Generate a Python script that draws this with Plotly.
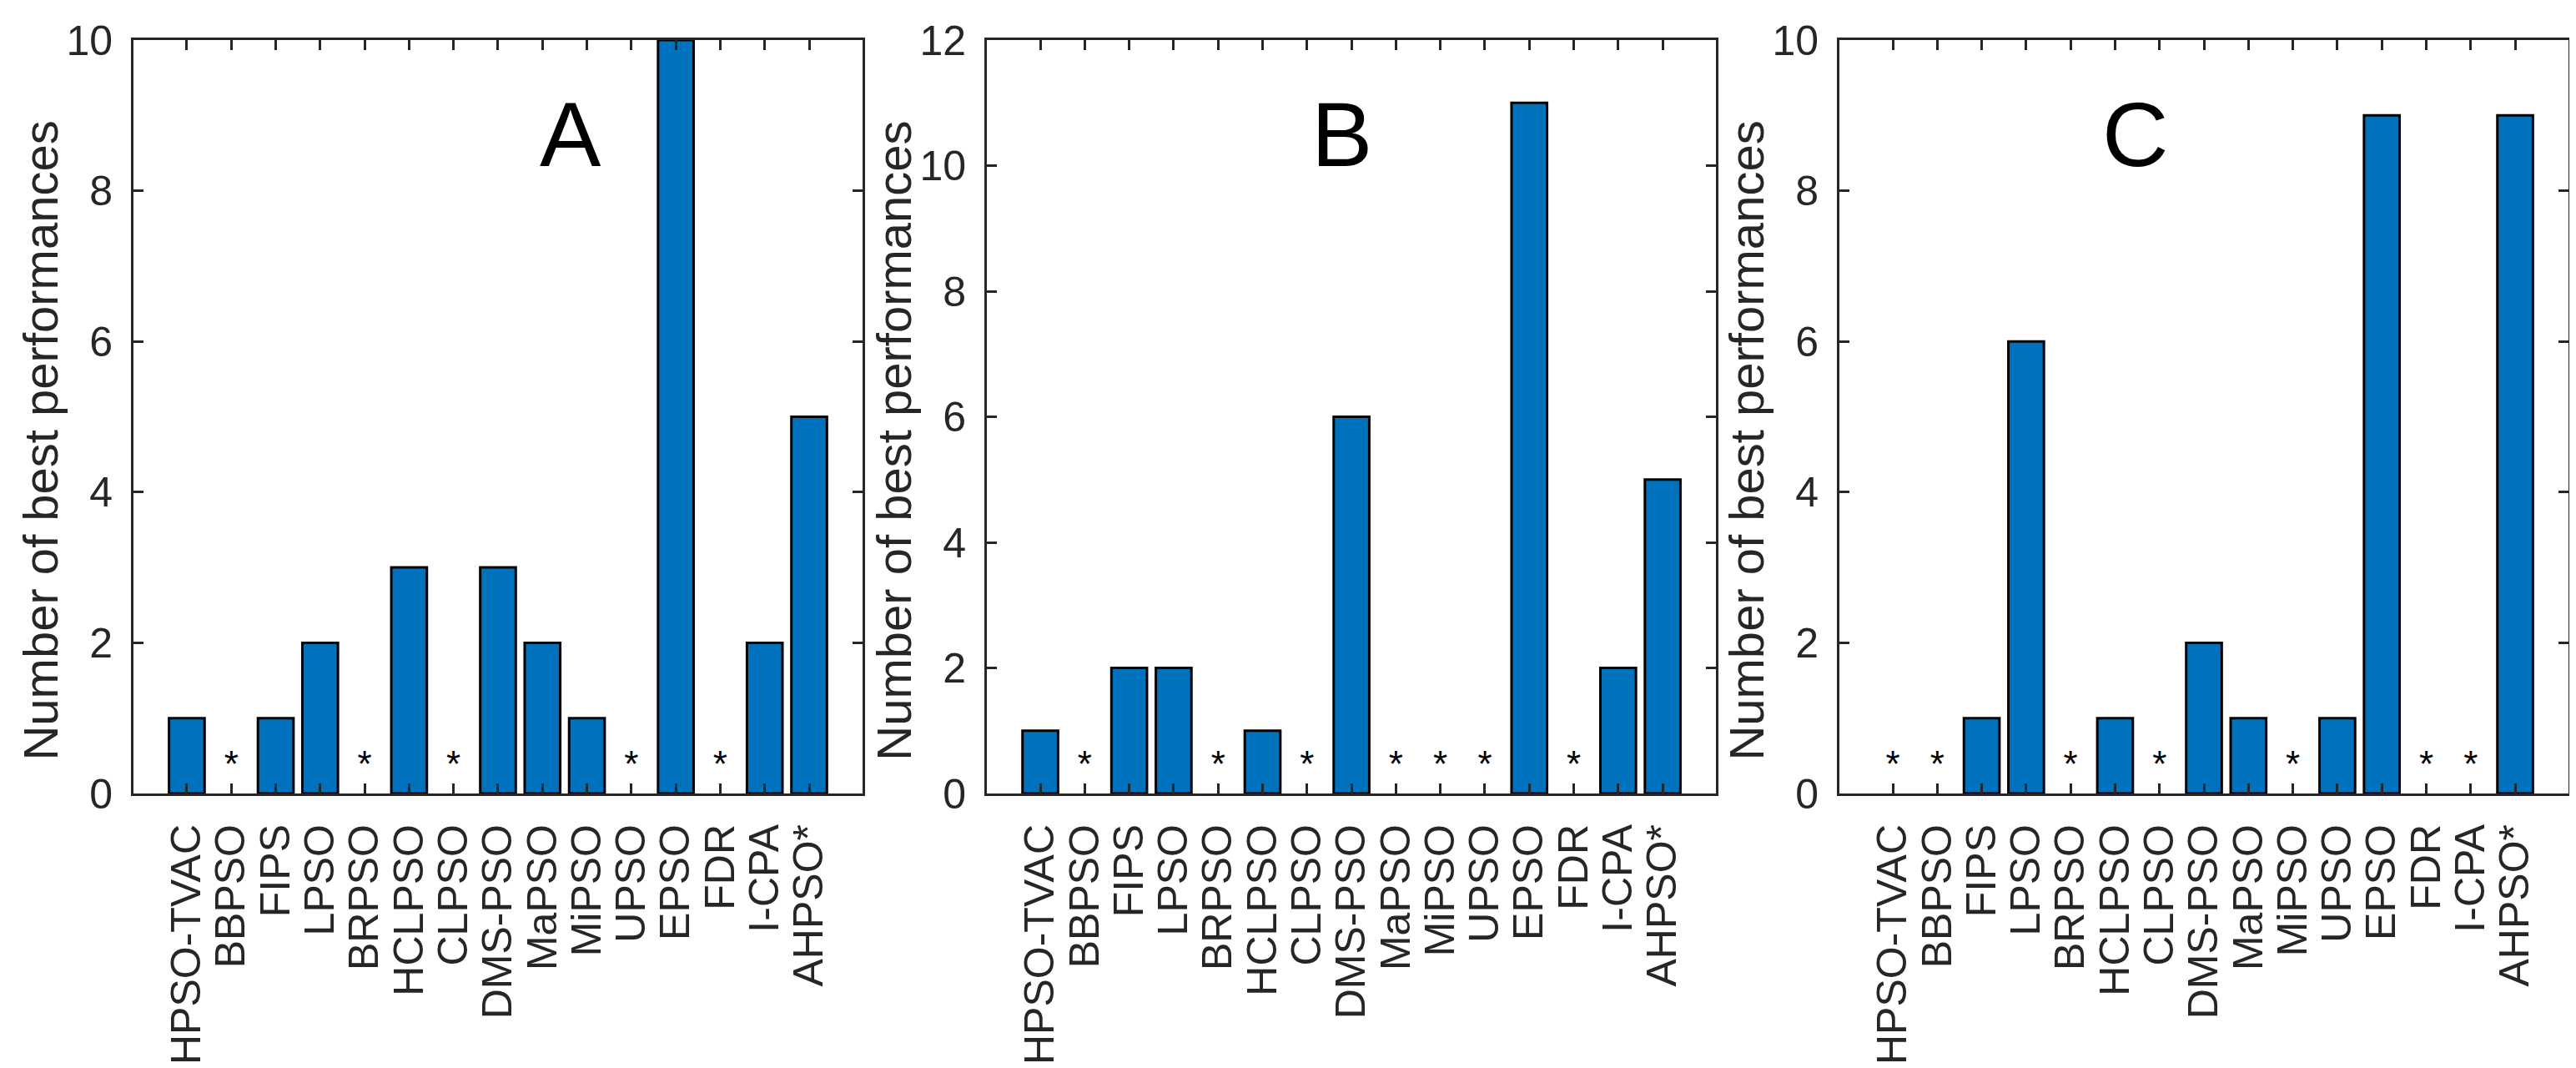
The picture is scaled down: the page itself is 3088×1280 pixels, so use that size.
import plotly.graph_objects as go

methods = ["HPSO-TVAC", "BBPSO", "FIPS", "LPSO", "BRPSO", "HCLPSO", "CLPSO",
           "DMS-PSO", "MaPSO", "MiPSO", "UPSO", "EPSO", "FDR", "I-CPA", "AHPSO*"]

best_a = [1, 0, 1, 2, 0, 3, 0, 3, 2, 1, 0, 10, 0, 2, 5]
best_b = [1, 0, 2, 2, 0, 1, 0, 6, 0, 0, 0, 11, 0, 2, 5]
best_c = [0, 0, 1, 6, 0, 1, 0, 2, 1, 0, 1, 9, 0, 0, 9]

panel_names = ["A", "B", "C"]
y_max = [10, 12, 10]
y_title = "Number of best performances"

BLUE = "#0072BD"
AXIS = "#262626"
FONT = "Liberation Sans, Arial, Helvetica, sans-serif"
NARROW = "Liberation Sans Narrow, Arial Narrow, Liberation Sans, Arial, sans-serif"

domains = [[0.0, 0.2994], [0.3505, 0.6499], [0.7006, 1.0]]
letter_x = [0.60, 0.487, 0.406]

fig = go.Figure()
layout = {}
annotations = []

for i, (vals, name, ymax) in enumerate(zip([best_a, best_b, best_c], panel_names, y_max)):
    n = "" if i == 0 else str(i + 1)
    xa, ya = "x" + n, "y" + n

    fig.add_trace(go.Bar(
        x=methods,
        y=[v if v > 0 else None for v in vals],
        width=0.8,
        marker=dict(color=BLUE, line=dict(color="black", width=3)),
        xaxis=xa, yaxis=ya,
        showlegend=False,
    ))

    # stars mark methods with no best performance
    stars = [m for m, v in zip(methods, vals) if v == 0]
    fig.add_trace(go.Scatter(
        x=stars,
        y=[ymax * 0.034] * len(stars),
        mode="text",
        text=["*"] * len(stars),
        textposition="middle center",
        textfont=dict(family=FONT, size=44, color="black"),
        xaxis=xa, yaxis=ya,
        showlegend=False,
    ))

    layout["xaxis" + n] = dict(
        domain=domains[i],
        anchor=ya,
        type="category",
        categoryorder="array",
        categoryarray=methods,
        range=[-1.2, len(methods) + 0.2],
        tickmode="array",
        tickvals=methods,
        ticktext=methods,
        tickangle=-90,
        ticks="inside",
        ticklen=12,
        tickwidth=3,
        tickcolor=AXIS,
        showline=True,
        linecolor=AXIS,
        linewidth=3,
        mirror="ticks",
        showgrid=False,
        tickfont=dict(family=FONT, size=50, color=AXIS),
        ticklabelstandoff=14,
    )
    layout["yaxis" + n] = dict(
        domain=[0, 1],
        anchor=xa,
        range=[0, ymax],
        dtick=2,
        ticks="inside",
        ticklen=12,
        tickwidth=3,
        tickcolor=AXIS,
        showline=True,
        linecolor=AXIS,
        linewidth=3,
        mirror="ticks",
        showgrid=False,
        zeroline=False,
        tickfont=dict(family=NARROW, size=50, color=AXIS),
        ticklabelstandoff=12,
    )

    # y axis title, placed by hand so it clears the tick labels
    annotations.append(dict(
        text=y_title,
        x=-0.128, y=0.468,
        xref=xa + " domain", yref=ya + " domain",
        xanchor="center", yanchor="middle",
        textangle=-90,
        showarrow=False,
        font=dict(family=FONT, size=58, color=AXIS),
    ))

    annotations.append(dict(
        text=name,
        x=letter_x[i], y=0.875,
        xref=xa + " domain", yref=ya + " domain",
        xanchor="center", yanchor="middle",
        showarrow=False,
        font=dict(family=FONT, size=110, color="black"),
    ))

fig.update_layout(
    **layout,
    annotations=annotations,
    width=3088,
    height=1280,
    margin=dict(l=152, r=17, t=34, b=313),
    plot_bgcolor="white",
    paper_bgcolor="white",
    bargap=0.2,
)

fig.write_html("out.html")
